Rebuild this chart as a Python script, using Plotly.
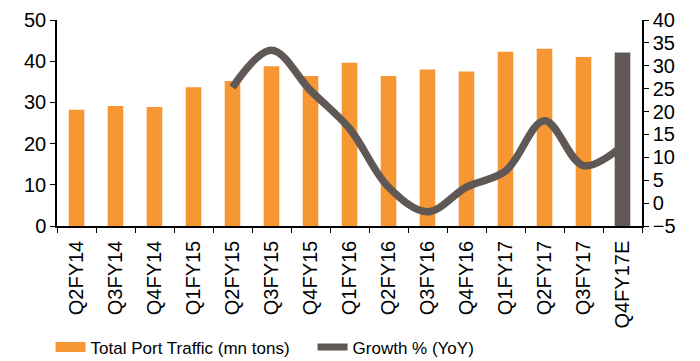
import plotly.graph_objects as go

categories = ["Q2FY14", "Q3FY14", "Q4FY14", "Q1FY15", "Q2FY15", "Q3FY15", "Q4FY15",
              "Q1FY16", "Q2FY16", "Q3FY16", "Q4FY16", "Q1FY17", "Q2FY17", "Q3FY17", "Q4FY17E"]
traffic = [28.2, 29.1, 28.9, 33.7, 35.2, 38.8, 36.4, 39.6, 36.4, 38.0, 37.5, 42.3, 43.0, 41.0, 42.1]
growth = [None, None, None, None, 25.3, 33.4, 24.6, 16.3, 3.5, -1.9, 3.5, 7.0, 18.0, 8.2, 12.5]

ORANGE = "#F79733"
DARK = "#5F5854"
bar_colors = [ORANGE] * (len(categories) - 1) + [DARK]

FONT = "Liberation Sans, Arial, sans-serif"

fig = go.Figure()
fig.add_trace(go.Bar(x=categories, y=traffic, marker=dict(color=bar_colors, line_width=0),
                     width=0.4, showlegend=False, name="Total Port Traffic (mn tons)"))
fig.add_trace(go.Scatter(x=categories, y=growth, yaxis="y2", mode="lines",
                         line=dict(color=DARK, width=7.5, shape="spline", smoothing=1.0),
                         showlegend=False, name="Growth % (YoY)"))
# legend entries
fig.add_trace(go.Scatter(x=[None], y=[None], mode="lines", line=dict(color=ORANGE, width=10),
                         name="Total Port Traffic (mn tons)"))
fig.add_trace(go.Scatter(x=[None], y=[None], yaxis="y2", mode="lines", line=dict(color=DARK, width=7),
                         name="Growth % (YoY)"))

fig.update_layout(
    width=700, height=361,
    margin=dict(l=57, r=58, t=20, b=135, autoexpand=False),
    plot_bgcolor="white", paper_bgcolor="white",
    font=dict(family=FONT, color="black", size=18),
    xaxis=dict(type="category", tickangle=-90, showline=True, linecolor="black", linewidth=1.5,
               ticks="outside", tickson="boundaries", ticklen=5, tickcolor="black",
               tickfont=dict(size=20), ticklabelstandoff=5, showgrid=False, automargin=False),
    yaxis=dict(range=[0, 50], dtick=10, showline=True, linecolor="black", linewidth=1.5,
               ticks="outside", ticklen=5, tickcolor="black", showgrid=False, zeroline=False,
               tickfont=dict(size=20), automargin=False),
    yaxis2=dict(range=[-5, 40], dtick=5, overlaying="y", side="right", showline=True,
                linecolor="black", linewidth=1.5, ticks="outside", ticklen=5, tickcolor="black",
                showgrid=False, zeroline=False, tickfont=dict(size=20), automargin=False),
    legend=dict(orientation="h", x=-0.011, xanchor="left", y=-0.59, yanchor="middle",
                font=dict(size=17), entrywidth=217, entrywidthmode="pixels",
                bgcolor="rgba(0,0,0,0)"),
)

fig.write_html("out.html")
